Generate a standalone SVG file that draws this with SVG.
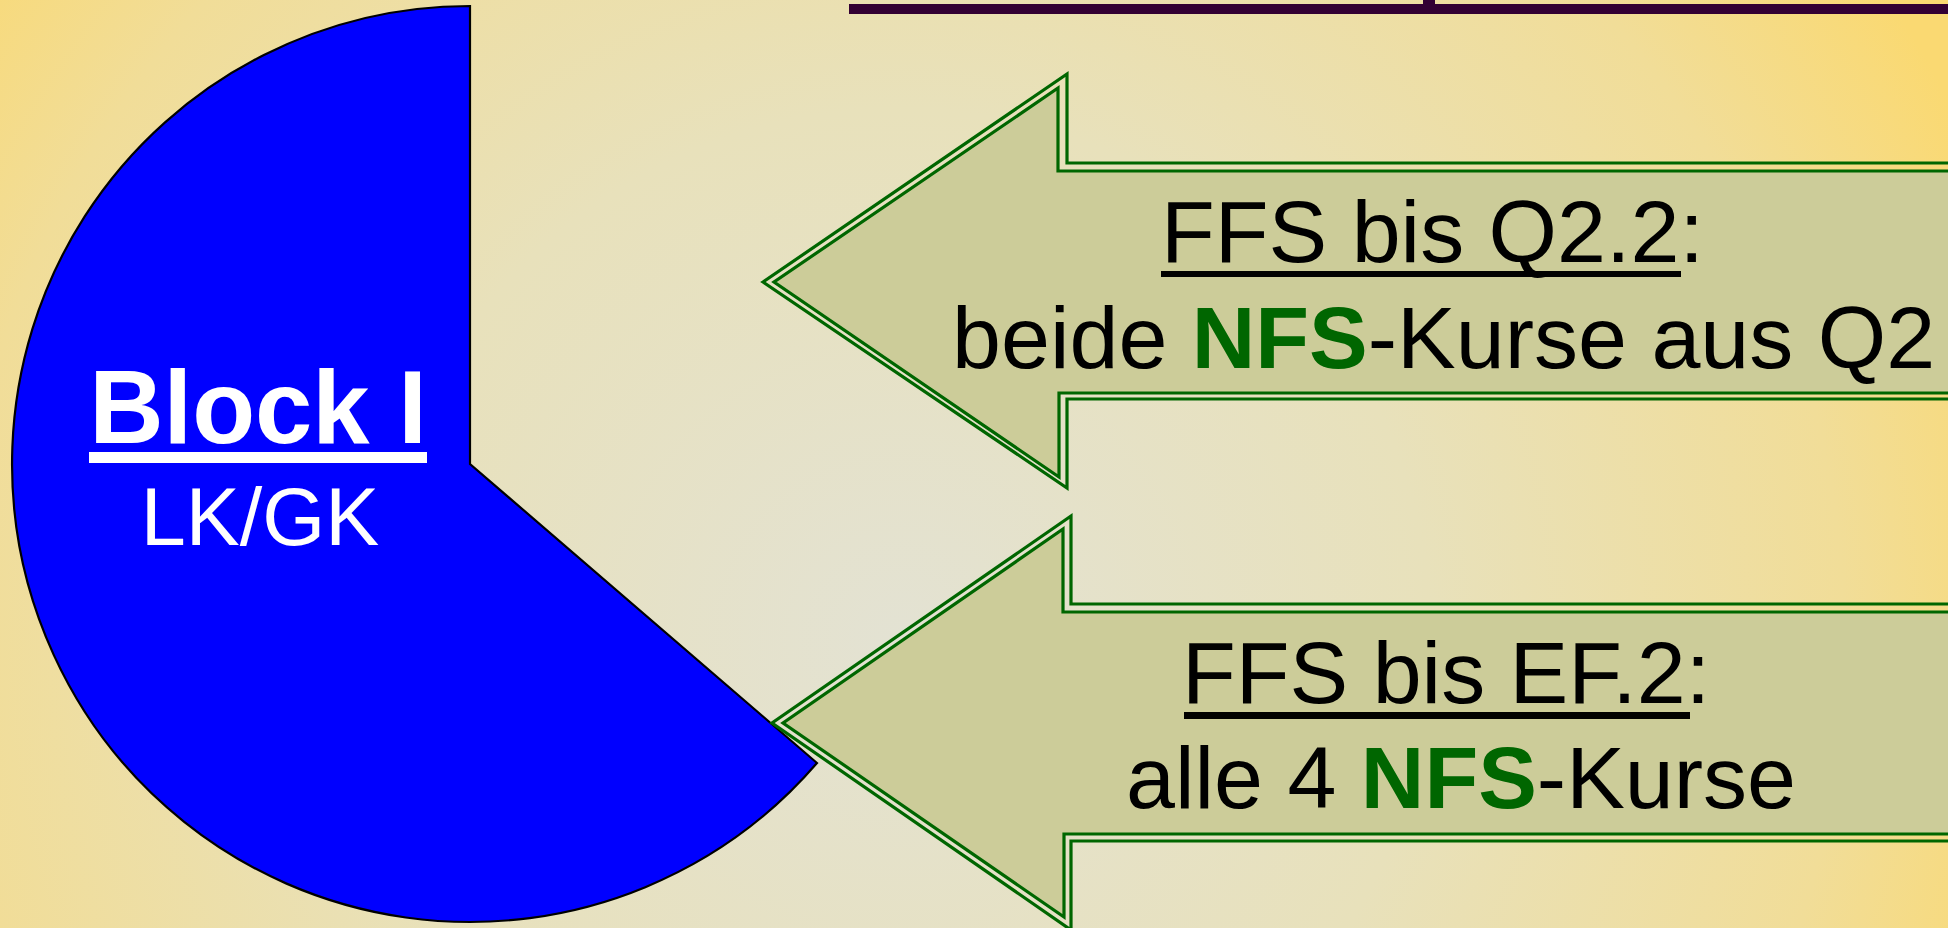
<svg xmlns="http://www.w3.org/2000/svg" width="1948" height="928" viewBox="0 0 1948 928">
  <defs>
    <radialGradient id="bg" gradientUnits="userSpaceOnUse" cx="900" cy="640" r="1180">
      <stop offset="0" stop-color="#e3e2d3"/>
      <stop offset="0.45" stop-color="#e8e1bb"/>
      <stop offset="0.8" stop-color="#f1dd98"/>
      <stop offset="1" stop-color="#fad972"/>
    </radialGradient>
  </defs>
  <style>
    .outer { fill: none; stroke: #006600; stroke-width: 3.2; stroke-linejoin: miter; }
    .inner { fill: #cccc99; stroke: #006600; stroke-width: 3.2; stroke-linejoin: miter; }
    .txt { font-family: "Liberation Sans", Arial, sans-serif; font-size: 88px; fill: #000000; }
    .nfs { font-weight: bold; fill: #006600; }
    .ul { fill: #000000; }
    .wt { font-family: "Liberation Sans", Arial, sans-serif; fill: #ffffff; text-anchor: middle; }
  </style>
  <rect x="0" y="0" width="1948" height="928" fill="url(#bg)"/>

  <g id="title-underline">
    <rect x="849" y="4" width="1099" height="10" fill="#330033"/>
    <rect x="1423" y="0" width="12" height="4" fill="#330033"/>
  </g>

  <g id="block1">
    <path d="M470,464 L470,6 A458,458 0 1,0 817,763 Z" fill="#0000ff" stroke="#000000" stroke-width="2.2" stroke-linejoin="miter"/>
    <text class="wt" x="258" y="443" font-size="103" font-weight="bold">Block I</text>
    <rect x="89" y="452" width="338" height="11" fill="#ffffff"/>
    <text class="wt" x="260" y="545" font-size="81">LK/GK</text>
  </g>

  <g id="connectors">
    <g id="arrow-q2">
      <polygon class="outer" points="1965,163 1067,163 1067,74 763,282 1067,488 1067,399 1965,399"/>
      <polygon class="inner" points="1965,171 1058,171 1058,88 774,282 1059,477 1059,393 1965,393"/>
      <text class="txt" x="1161" y="262">FFS bis Q2.2:</text>
      <rect class="ul" x="1161" y="271" width="520" height="6"/>
      <text class="txt" x="952" y="368">beide <tspan class="nfs">NFS</tspan>-Kurse aus Q2</text>
    </g>
    <g id="arrow-ef">
      <polygon class="outer" points="1965,604 1071,604 1071,516 772,723 1071,930 1071,841 1965,841"/>
      <polygon class="inner" points="1965,612 1063,612 1063,529 783,723 1064,917 1064,834 1965,834"/>
      <text class="txt" x="1182" y="703">FFS bis EF.2:</text>
      <rect class="ul" x="1184" y="712" width="506" height="7"/>
      <text class="txt" x="1126" y="808">alle 4 <tspan class="nfs">NFS</tspan>-Kurse</text>
    </g>
  </g>
</svg>
